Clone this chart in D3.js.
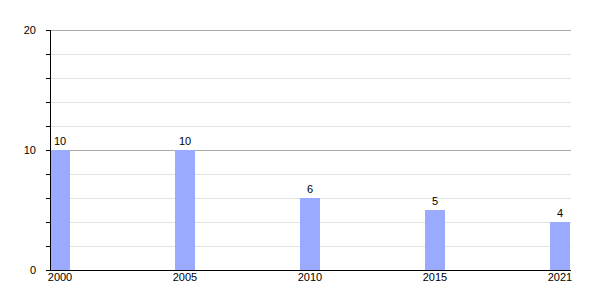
<!DOCTYPE html>
<html>
<head>
<meta charset="utf-8">
<script src="https://cdn.jsdelivr.net/npm/d3@7"></script>
<style>
  body { margin: 0; background: #fff; }
  text { font-family: "Liberation Sans", Arial, sans-serif; font-size: 11px; fill: #000; }
</style>
</head>
<body>
<div id="chart-area"></div>
<script>
// Data
var years = ["2000", "2005", "2010", "2015", "2021"];
var counts = [10, 10, 6, 5, 4];
var yTicks = [0, 10, 20];
var yMinor = [2, 4, 6, 8, 12, 14, 16, 18];

var margin = { left: 50, right: 29, top: 30, bottom: 30 },
    width = 600 - margin.left - margin.right,
    height = 300 - margin.top - margin.bottom;

var barW = 20;

var svg = d3.select("#chart-area").append("svg")
    .attr("width", 600)
    .attr("height", 300);

var g = svg.append("g")
    .attr("transform", "translate(" + margin.left + "," + margin.top + ")");

// Scales
var x = d3.scalePoint().domain(years).range([0, width - barW - 1]);
var y = d3.scaleLinear().domain([0, 20]).range([height, 0]);

// minor gridlines
g.selectAll(".minor").data(yMinor).enter().append("line")
    .attr("x1", 0).attr("x2", width)
    .attr("y1", d => y(d) + 0.5).attr("y2", d => y(d) + 0.5)
    .attr("stroke", "#e2e2e2");

// major gridlines
g.selectAll(".major").data(yTicks.filter(d => d > 0)).enter().append("line")
    .attr("x1", 0).attr("x2", width)
    .attr("y1", d => y(d) + 0.5).attr("y2", d => y(d) + 0.5)
    .attr("stroke", "#aaaaaa");

// Bars
g.selectAll(".bar").data(counts).enter().append("rect")
    .attr("x", (d, i) => x(years[i]))
    .attr("y", d => y(d))
    .attr("width", barW)
    .attr("height", d => height - y(d))
    .attr("fill", "#99aaff");

// Value labels
g.selectAll(".val").data(counts).enter().append("text")
    .attr("x", (d, i) => x(years[i]) + barW / 2)
    .attr("y", d => y(d) - 5)
    .attr("text-anchor", "middle")
    .text(d => d);

// Y axis
var yAxis = g.append("g")
    .call(d3.axisLeft(y).tickValues(yTicks.concat(yMinor)).tickSize(4)
        .tickFormat(d => yTicks.indexOf(d) >= 0 ? d : ""));
yAxis.select(".domain").remove();
yAxis.selectAll("text").attr("x", -14).style("font-size", "11px").attr("fill", "#000");
yAxis.selectAll("line").attr("stroke", "#000");
g.append("line").attr("x1", 0.5).attr("x2", 0.5).attr("y1", 0).attr("y2", height)
    .attr("stroke", "#000");

// X axis
g.append("line").attr("x1", 0).attr("x2", width).attr("y1", height + 0.5).attr("y2", height + 0.5)
    .attr("stroke", "#000");
g.selectAll(".xl").data(years).enter().append("text")
    .attr("x", d => x(d) + barW / 2)
    .attr("y", height + 11)
    .attr("text-anchor", "middle")
    .text(d => d);
</script>
</body>
</html>
